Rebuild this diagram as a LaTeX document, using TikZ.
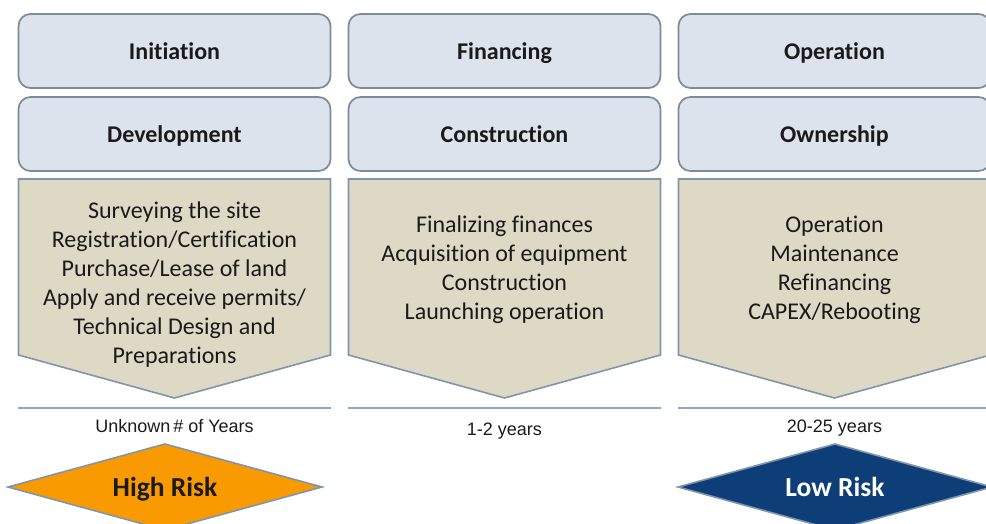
\documentclass[tikz,border=0pt]{standalone}
\usepackage{fontspec}
\setmainfont{Carlito}[Ligatures=NoCommon]
\newfontfamily\arialf{Liberation Sans}
\definecolor{boxfill}{HTML}{DCE3EC}
\definecolor{boxline}{HTML}{7D8A97}
\definecolor{chevfill}{HTML}{DDD9C4}
\definecolor{chevline}{HTML}{7F95AD}
\definecolor{rule}{HTML}{8EA9C1}
\definecolor{orangeR}{HTML}{F99B00}
\definecolor{navyR}{HTML}{0E3E78}
\definecolor{txt}{HTML}{1A1A1A}
\tikzset{
  phase/.style={draw=boxline, line width=1.7pt, fill=boxfill, rounded corners=12pt,
    minimum width=312pt, minimum height=74pt, inner sep=0pt, text height=17pt, text depth=0pt,
    font=\fontsize{24}{28}\selectfont\bfseries, text=txt},
  chev/.style={draw=chevline, line width=1.6pt, fill=chevfill},
  chevtext/.style={align=center, font=\fontsize{24}{29}\selectfont, text=txt, inner sep=0pt},
  yrline/.style={draw=rule, line width=1.6pt},
  yrtext/.style={font=\arialf\fontsize{18}{20}\selectfont, text=txt, inner sep=0pt, anchor=base},
  risk/.style={draw=chevline, line width=1.6pt},
  risktext/.style={font=\fontsize{27.5}{30}\selectfont\bfseries, inner sep=0pt, anchor=base}
}
\begin{document}
\begin{tikzpicture}[x=1pt,y=-1pt]
\useasboundingbox (0,0) rectangle (986,523);
\clip (0,0) rectangle (986,523);
% top rows
\node[phase] (ini) at (174.5,51) {Initiation};
\node[phase] (fin) at (504.5,51) {Financing};
\node[phase] (ope) at (834.5,51) {Operation};
\node[phase] (dev) at (174.5,134) {Development};
\node[phase] (con) at (504.5,134) {Construction};
\node[phase] (own) at (834.5,134) {Ownership};
% chevrons
\draw[chev] (18.5,179) -- (330.5,179) -- (330.5,355) -- (174.5,398) -- (18.5,355) -- cycle;
\draw[chev] (348.5,179) -- (660.5,179) -- (660.5,355) -- (504.5,398) -- (348.5,355) -- cycle;
\draw[chev] (678.5,179) -- (990.5,179) -- (990.5,355) -- (834.5,398) -- (678.5,355) -- cycle;
\node[chevtext] (t1) at (174.5,285) {Surveying the site\\Registration/Certification\\Purchase/Lease of land\\Apply and receive permits/\\Technical Design and\\Preparations};
\node[chevtext] (t2) at (504.5,270) {Finalizing finances\\Acquisition of equipment\\Construction\\Launching operation};
\node[chevtext] (t3) at (834.5,270) {Operation\\Maintenance\\Refinancing\\CAPEX/Rebooting};
% year rules
\coordinate (l1a) at (18,408); \coordinate (l1b) at (331,408);
\coordinate (l2a) at (348,408); \coordinate (l2b) at (661,408);
\coordinate (l3a) at (678,408); \coordinate (l3b) at (991,408);
\draw[yrline] (l1a) -- (l1b);
\draw[yrline] (l2a) -- (l2b);
\draw[yrline] (l3a) -- (l3b);
\node[yrtext] (y1) at (174.5,432) {Unknown\,\# of Years};
\node[yrtext] (y2) at (504.5,435) {1-2 years};
\node[yrtext] (y3) at (834.5,432) {20-25 years};
% risk diamonds
\draw[risk, fill=orangeR] (165,444) -- (322,487) -- (165,530) -- (8,487) -- cycle;
\draw[risk, fill=navyR] (835,444) -- (992,487) -- (835,530) -- (678,487) -- cycle;
\node[risktext, text=txt] (hr) at (165,496.5) {High Risk};
\node[risktext, text=white] (lr) at (835,496.5) {Low Risk};
\end{tikzpicture}
\end{document}
